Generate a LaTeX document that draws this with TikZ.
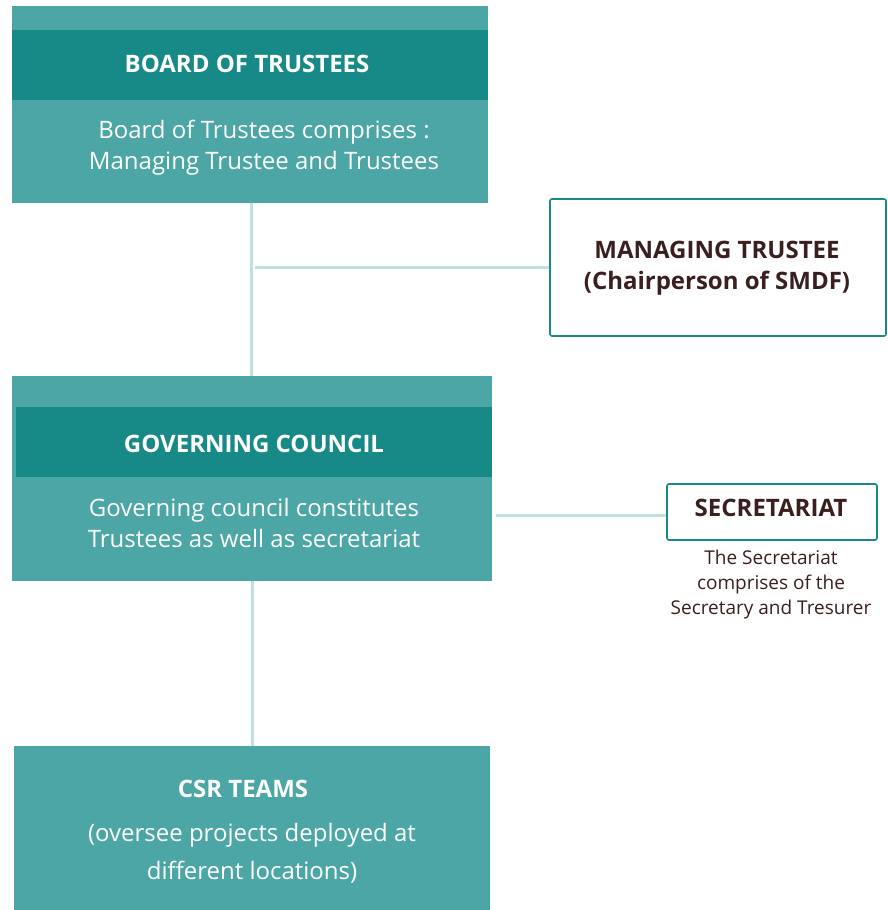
\documentclass[tikz,border=0pt]{standalone}
\usepackage{fontspec}
\setmainfont{Open Sans}
\definecolor{tealL}{HTML}{4BA6A5}
\definecolor{tealD}{HTML}{178A88}
\definecolor{linkC}{HTML}{BDE1DF}
\definecolor{textD}{HTML}{3B1F1F}
\begin{document}
\begin{tikzpicture}[x=1pt,y=-1pt]
    % styles
    \tikzset{
        box/.style={fill=tealL,draw=none,inner sep=0pt},
        band/.style={fill=tealD,draw=none,inner sep=0pt},
        head/.style={text=white,font=\fontsize{24}{28}\selectfont\bfseries},
        body/.style={text=white,align=center,font=\fontsize{24}{31}\selectfont},
        side/.style={draw=tealD,line width=1.6pt,rounded corners=2pt,fill=white,inner sep=0pt},
        sidehead/.style={text=textD,align=center,font=\fontsize{24}{31}\selectfont\bfseries},
        note/.style={text=textD,align=center,font=\fontsize{19}{25}\selectfont},
        link/.style={draw=linkC,line width=3pt}
    }
    \useasboundingbox (0,0) rectangle (887,910);

    % main boxes
    \node[box,minimum width=476,minimum height=197] (board) at (250,104.5) {};
    \node[band,minimum width=476,minimum height=70] (boardband) at (250,65) {};
    \node[head] (boardtitle) at (247,64) {BOARD OF TRUSTEES};
    \node[body] (boardtext) at (264,148) {Board of Trustees comprises :\\Managing Trustee and Trustees};

    \node[box,minimum width=480,minimum height=205] (gov) at (252,478.5) {};
    \node[band,minimum width=476,minimum height=70] (govband) at (254,442) {};
    \node[head] (govtitle) at (254,444) {GOVERNING COUNCIL};
    \node[body] (govtext) at (254,522.5) {Governing council constitutes\\Trustees as well as secretariat};

    \node[box,minimum width=476,minimum height=164] (csr) at (252,828) {};
    \node[head] (csrtitle) at (243,789) {CSR TEAMS};
    \node[body,font=\fontsize{24}{38}\selectfont] (csrtext) at (252,853.5) {(oversee projects deployed at\\different locations)};

    % side boxes
    \node[side,minimum width=336,minimum height=137] (mt) at (718,267.5) {};
    \node[sidehead] (mttext) at (717,268.5) {MANAGING TRUSTEE\\(Chairperson of SMDF)};
    \node[side,minimum width=210,minimum height=56] (sec) at (772,512) {};
    \node[sidehead] (sectext) at (771,508) {SECRETARIAT};
    \node[note] (secnote) at (771,585) {The Secretariat\\comprises of the\\Secretary and Tresurer};

    % connectors
    \coordinate (j1) at (255,267.5);
    \draw[link] ([xshift=1pt]board.south) -- ([xshift=1pt]board.south |- gov.north);
    \draw[link] (j1) -- (mt.west);
    \draw[link] (gov.south) -- (csr.north);
    \draw[link] ([shift={(4pt,-3pt)}]gov.east |- sec.west) -- ([yshift=-3pt]sec.west);
\end{tikzpicture}
\end{document}
